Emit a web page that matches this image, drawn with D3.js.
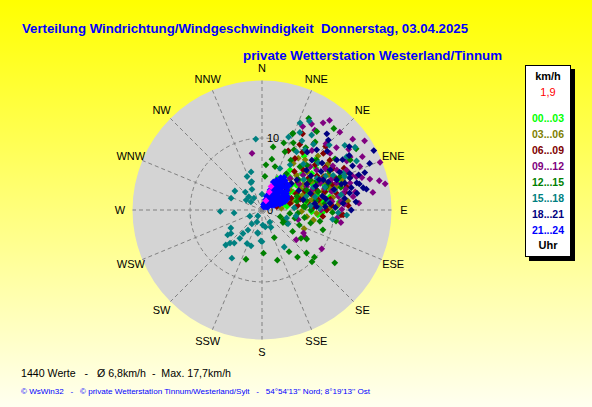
<!DOCTYPE html>
<html>
<head>
<meta charset="utf-8">
<script src="https://cdn.jsdelivr.net/npm/d3@7"></script>
<style>
  body { margin: 0; }
  svg { display: block; font-family: Arial, "Liberation Sans", sans-serif; }
  text { white-space: pre; }
</style>
</head>
<body>
<div id="chart"></div>
<script>
// Wind direction (deg) / speed (km/h) readings, grouped by time of day
const slots = ["00...03", "03...06", "06...09", "09...12", "12...15", "15...18", "18...21", "21...24"];
const slotColors = ["#00ff00", "#808000", "#800000", "#800080", "#008000", "#008080", "#000080", "#0000ff"];

const lime = [[34,5.9],[54,5.9],[91.6,8.5],[60.7,9.0],[71.4,6.5],[73.6,4.9],[61.6,3.9],[57,3.0],[53.6,8.6],[78.9,9.6],
  [65,10.9],[85.4,5.8],[82,3.5],[44.5,3.6],[26.3,4.9],[35,6.8],[46.7,10.1],[56.2,10.8],[54,7.1],[79.6,7.7],
  [59.7,5.0],[87.4,10.4],[59.5,1.8],[92,6.9],[64.7,10.8],[93,8.3],
  [40,6.0],[48,7.5],[62,7.8],[68,5.5],[75,8.0],[80,6.2],[86,7.3],[66,9.2],[52,9.5],[70,11.5],
  [88,9.0],[58,4.5],[42,8.2],[76,3.2],[84,10.8],[64,6.6],[50,5.2],[95,7.8],[72,9.8],[38,9.5],
  [63,8.4],[69,7.0],[74,9.2],[82,8.5],[58,6.2]];
const olive = [[101.9,7.2],[114,6.4],[60.3,6.1],[47.9,9.0],[54.5,4.8],[72.3,9.9],[85,8.1],[98.5,6.3],[44.7,6.8],[37,4.9],
  [40.7,9.2],[85,2.7],[83,11.4],[61.5,9.7],[72,7.5],[68,3.7],[72.6,10.9],[76.4,5.9],[33.9,7.8],[69.8,12.0],
  [93.5,7.6],[84.5,4.8],[101,7.3],
  [42,5.8],[50,8.2],[58,6.8],[65,8.5],[78,7.2],[88,9.5],[62,10.5],[55,11.2],[46,10.8],[80,10.0],
  [70,6.0],[92,5.5],[75,4.3],[35,8.8],[66,12.8],[84,12.0],[52,3.8],
  [60,8.0],[67,9.6],[73,8.8],[79,6.8],[86,10.6],[64,5.2]];
const maroon = [[24,9.0],[38,11.8],[93.5,11.3],[86,9.7],[59.6,11.4],[74.3,5.5],[60,2.6],[49.7,9.7],[32.6,8.5],[55.6,7.8],
  [73.8,9.1],[76.6,4.0],[77.4,10.6],[69.9,8.1],[45.9,8.0],[42.6,4.7],[53.7,11.7],[74.6,12.2],[84,6.7],[64.3,5.3],
  [90,9.0],[77,2.1],[47.3,11.6],[93.6,11.0],
  [30,10.5],[40,7.0],[52,6.3],[58,9.0],[66,6.5],[70,10.4],[80,8.0],[88,7.0],[63,12.8],[78,11.8],
  [45,12.5],[35,9.8],[56,10.6],[83,5.0],[68,4.4],[96,8.5],[28,12.0],
  [62,9.8],[67,11.2],[72,7.2],[81,9.6],[87,12.0],[60,7.3]];
const purple = [[350,8.0],[35,14.8],[37,15.6],[26,12.9],[33.5,13.3],[45,15.3],[56,17.2],[55,14.7],[50,13.5],[68,17.7],
  [78,17.5],[76,16.8],[89.5,11.1],[86,11.5],[79,13.2],[70.6,13.9],[66,14.9],[59,14.3],[81,15.6],[96,10.5],
  [99,11.1],[123,9.9],[119,6.6],[122,7.0],[131,6.3],[105,5.2],[53.8,9.4],[61.8,11.8],[64.7,13.0],[67.4,10.2],
  [78.4,11.5],[62.4,7.0],[77.7,8.7],[41.5,5.9],[50.2,12.3],[73,12.8],[81.7,12.8],[49.7,7.5],[65.3,8.9],
  [40,10.8],[44,12.8],[48,9.0],[57,10.5],[60,13.6],[63,9.2],[70,11.0],[72,14.6],[75,10.0],[83,9.8],
  [86,13.5],[90,8.2],[55,6.3],[68,7.5],[30,13.8],[52,16.0],[62,15.8],[74,15.6],
  [58,11.6],[66,10.6],[71,9.2],[76,12.0],[80,10.8],[84,11.0],[69,13.4],[65,12.2]];
const green = [[27,14.3],[22,11.5],[10,8.9],[11,7.2],[5,6.3],[21.5,8.7],[57,15.6],[178,6.0],[198,7.2],[163,7.3],
  [147,6.9],[134,8.6],[126,12.5],[108,8.9],[101,8.2],[98.5,10.4],[125,5.2],[156,4.2],[143,8.2],[132,9.8],
  [136,10.0],[126,6.7],[123,7.4],[121,3.4],[5,4.7],[16.7,6.3],[34.9,13.3],[41.4,15.1],[115,3.3],[97,3.9],
  [118,3.9],[110,2.7],[104,4.7],[58,7.9],[70.2,9.5],[69,5.2],[66.9,11.8],[33.9,6.1],[85,5.8],[60.4,14.1],
  [47.5,10.3],[41.2,8.0],[21.8,11.4],
  [28,9.5],[35,10.6],[45,8.8],[50,6.6],[55,12.4],[62,8.6],[66,6.8],[72,8.2],[78,6.3],[84,8.8],
  [90,6.8],[95,5.0],[100,6.0],[38,12.0],[25,10.3],[18,9.8],[30,8.0],[105,7.0],[112,5.6],[92,9.8],
  [60,10.8],[68,10.0],[74,11.4],[80,7.6],[86,6.0],[76,5.0]];
const teal = [[355,9.9],[344,5.5],[336,5.1],[340,4.2],[305,4.6],[291,4.6],[302,2.6],[334,3.2],[338,4.1],[317,3.4],
  [315,2.6],[306,1.9],[326,2.0],[0,2.2],[268,5.8],[264,3.9],[243,1.9],[215,1.0],[203,1.8],[216,2.4],
  [215,3.4],[219,4.2],[218,5.0],[240,5.0],[233,5.4],[234,5.9],[220,6.0],[226,7.0],[224,6.4],[204,5.1],
  [197,5.2],[190,3.3],[180,4.4],[212,7.9],[177,2.1],[169,2.4],[147,2.0],[152.6,2.7],[191,3.2],[182,4.3],
  [118,4.1],[149,6.0],[97.5,9.9],[93.4,11.8],[23.6,13.2],[30,11.1],[33.5,12.5],[57.8,13.9],[62.6,14.8],[65.7,12.4],
  [56,15.6],[74.7,10.5],[32,7.4],[35.6,10.3],[23.4,6.3],[48.7,4.6],[30.7,9.4],
  [26,12.0],[38,11.6],[42,8.6],[50,10.2],[54,7.2],[60,8.8],[64,11.0],[70,9.3],[76,7.6],[82,9.2],
  [88,8.0],[92,10.6],[46,13.0],[52,14.6],[28,14.0],[20,10.8],[100,4.8],[108,3.6],[86,4.5],
  [62,10.0],[68,12.4],[73,6.4],[79,11.2],[85,6.8],[66,7.8]];
const navy = [[62,17.6],[66.6,16.3],[70,14.3],[77.6,14.4],[78.7,14.8],[85,13.1],[79,12.4],[58,14.3],[74,13.7],[72,12.1],
  [40.4,13.9],[43.5,13.4],[63.9,9.5],[68.1,11.2],[70.9,7.1],[49.1,6.4],[86.5,7.6],[84.4,9.5],[85.3,11.3],[48.2,8.3],
  [51,4.4],[59.5,11.0],[67.4,13.2],[76,5.9],[70,2.7],[42.3,11.3],[48,5.5],[56.2,12.5],
  [45,9.8],[52,10.6],[55,8.3],[60,7.2],[64,12.0],[70,15.2],[74,10.4],[80,9.0],[82,11.6],[88,10.2],
  [66,8.2],[58,13.2],[76,12.8],[48,12.2],[62,5.8],[90,12.4],[54,15.0],[38,10.2],
  [62,9.0],[67,10.0],[72,11.6],[77,8.6],[83,7.4],[87,8.8],[70,13.0],[75,14.0],[64,14.0],[80,13.4],[57,9.8]];
const blue = [[20,1.0],[25,2.0],[22,3.0],[28,4.0],[30,5.2],[32,4.6],[35,3.5],[38,2.5],[40,1.5],[42,4.2],
  [45,3.2],[48,2.2],[50,1.2],[52,4.4],[55,3.6],[58,2.8],[60,1.8],[62,4.0],[65,3.0],[68,2.2],
  [70,3.4],[25,0.5],[33,1.0],[45,0.6],[60,0.8],[30,3.0],[36,4.9],[44,5.0],[26,4.6],[40,3.8],
  [50,3.0],[55,2.0],[65,1.5],[72,2.6],[35,2.0],[28,1.4],[47,4.6],[15,0.8],[18,2.0],
  [22,4.2],[24,3.6],[27,2.6],[31,2.2],[33,4.0],[34,5.5],[37,3.0],[39,4.4],[41,2.0],[43,3.5],
  [46,2.6],[49,3.8],[51,1.8],[53,2.8],[56,4.1],[57,1.2],[59,3.4],[61,2.4],[63,3.2],[66,2.6],
  [67,3.8],[69,1.8],[71,3.0],[19,1.5],[23,2.4],[29,3.4],[32,1.6],[42,0.9],[54,0.9],[64,0.9],
  [38,5.2],[48,5.0]];
const latest = [[21,3.5],[22,2.7],[23,1.4]];

const seriesValues = [lime, olive, maroon, purple, green, teal, navy, blue];
const directions = ["N","NNE","NE","ENE","E","ESE","SE","SSE","S","SSW","SW","WSW","W","WNW","NW","NNW"];
const radialTicks = [0, 10];

const width = 592;
const height = 407;
const cx = 262, cy = 210, outerR = 129.5;

const svg = d3.select('#chart')
    .append('svg')
    .attr('width', width)
    .attr('height', height)
    .attr('viewBox', [0, 0, width, height]);

// Yellow background gradient
const defs = svg.append('defs');
const grad = defs.append('linearGradient')
    .attr('id', 'bg').attr('x1', 0).attr('y1', 0).attr('x2', 0).attr('y2', 1);
grad.append('stop').attr('offset', '0%').attr('stop-color', '#ffff00');
grad.append('stop').attr('offset', '100%').attr('stop-color', '#fffff0');
svg.append('rect').attr('width', width).attr('height', height).attr('fill', 'url(#bg)');

// Titles
svg.append('text')
    .attr('x', 22).attr('y', 32.5)
    .attr('font-size', 13).attr('font-weight', 'bold').attr('fill', '#0000ff')
    .attr('textLength', 446).attr('lengthAdjust', 'spacingAndGlyphs')
    .text('Verteilung Windrichtung/Windgeschwindigkeit  Donnerstag, 03.04.2025');
svg.append('text')
    .attr('x', 243).attr('y', 60)
    .attr('font-size', 13).attr('font-weight', 'bold').attr('fill', '#0000ff')
    .attr('textLength', 259).attr('lengthAdjust', 'spacingAndGlyphs')
    .text('private Wetterstation Westerland/Tinnum');

// Polar scales
const r = d3.scaleLinear().domain([0, 18]).range([0, outerR]);
const angle = d3.scaleLinear().domain([0, 360]).range([0, 2 * Math.PI]);
const px = (dir, spd) => cx + r(spd) * Math.sin(angle(dir));
const py = (dir, spd) => cy - r(spd) * Math.cos(angle(dir));

const g = svg.append('g');

g.append('circle')
    .attr('cx', cx).attr('cy', cy).attr('r', outerR)
    .attr('fill', '#d4d4d4');

// Grid: spokes and speed circle
g.append('g')
    .selectAll('line')
    .data(directions)
    .join('line')
    .attr('x1', cx).attr('y1', cy)
    .attr('x2', (d, i) => px(i * 22.5, 18))
    .attr('y2', (d, i) => py(i * 22.5, 18))
    .attr('stroke', '#808080')
    .attr('stroke-dasharray', '4,3');

g.append('g')
    .selectAll('circle')
    .data(radialTicks.filter(d => d > 0))
    .join('circle')
    .attr('cx', cx).attr('cy', cy)
    .attr('r', d => r(d))
    .attr('fill', 'none')
    .attr('stroke', '#808080')
    .attr('stroke-dasharray', '4,3');

// Direction labels
g.append('g')
    .selectAll('text')
    .data(directions)
    .join('text')
    .attr('x', (d, i) => cx + 142 * Math.sin(angle(i * 22.5)))
    .attr('y', (d, i) => cy - 142 * Math.cos(angle(i * 22.5)))
    .attr('text-anchor', 'middle')
    .attr('dominant-baseline', 'central')
    .attr('font-size', 11)
    .attr('fill', '#000')
    .text(d => d);

// Speed tick labels along the N spoke
g.append('g')
    .selectAll('text')
    .data(radialTicks)
    .join('text')
    .attr('x', cx + 5)
    .attr('y', d => cy - r(d))
    .attr('dominant-baseline', 'central')
    .attr('font-size', 11)
    .attr('fill', '#000')
    .text(d => d);

// Data points, drawn in time order
const diamond = 'M0,-3.4L3.4,0L0,3.4L-3.4,0Z';
seriesValues.forEach((vals, k) => {
    g.append('g')
        .attr('fill', slotColors[k])
        .selectAll('path')
        .data(vals)
        .join('path')
        .attr('d', diamond)
        .attr('transform', d => `translate(${px(d[0], d[1])},${py(d[0], d[1])})`);
});
g.append('g')
    .attr('fill', '#ff00ff')
    .selectAll('path')
    .data(latest)
    .join('path')
    .attr('d', diamond)
    .attr('transform', d => `translate(${px(d[0], d[1])},${py(d[0], d[1])})`);

// Legend box with shadow
const legend = svg.append('g').attr('transform', 'translate(525,65)');
legend.append('rect').attr('x', 4).attr('y', 4).attr('width', 46).attr('height', 192).attr('fill', '#000');
legend.append('rect').attr('x', 0.5).attr('y', 0.5).attr('width', 45).attr('height', 191)
    .attr('fill', '#fff').attr('stroke', '#000');
legend.append('text').attr('x', 23).attr('y', 15).attr('text-anchor', 'middle')
    .attr('font-size', 11).attr('font-weight', 'bold').text('km/h');
legend.append('text').attr('x', 23).attr('y', 31).attr('text-anchor', 'middle')
    .attr('font-size', 11).attr('fill', '#ff0000').text('1,9');
legend.selectAll('.legend-item')
    .data(slots)
    .join('text')
    .attr('class', 'legend-item')
    .attr('x', 23)
    .attr('y', (d, i) => 57 + i * 16)
    .attr('text-anchor', 'middle')
    .attr('font-size', 11)
    .attr('font-weight', 'bold')
    .attr('textLength', 32)
    .attr('lengthAdjust', 'spacingAndGlyphs')
    .attr('fill', (d, i) => slotColors[i])
    .text(d => d);
legend.append('text').attr('x', 23).attr('y', 184).attr('text-anchor', 'middle')
    .attr('font-size', 11).attr('font-weight', 'bold').text('Uhr');

// Footer
svg.append('text')
    .attr('x', 21).attr('y', 376.5)
    .attr('font-size', 11).attr('fill', '#000')
    .attr('textLength', 210).attr('lengthAdjust', 'spacingAndGlyphs')
    .text('1440 Werte   -   Ø 6,8km/h  -  Max. 17,7km/h');
svg.append('text')
    .attr('x', 21).attr('y', 394)
    .attr('font-size', 8).attr('fill', '#0000ff')
    .attr('textLength', 349).attr('lengthAdjust', 'spacingAndGlyphs')
    .text('© WsWin32   -   © private Wetterstation Tinnum/Westerland/Sylt   -   54°54\'13\'\' Nord; 8°19\'13\'\' Ost');
</script>
</body>
</html>
